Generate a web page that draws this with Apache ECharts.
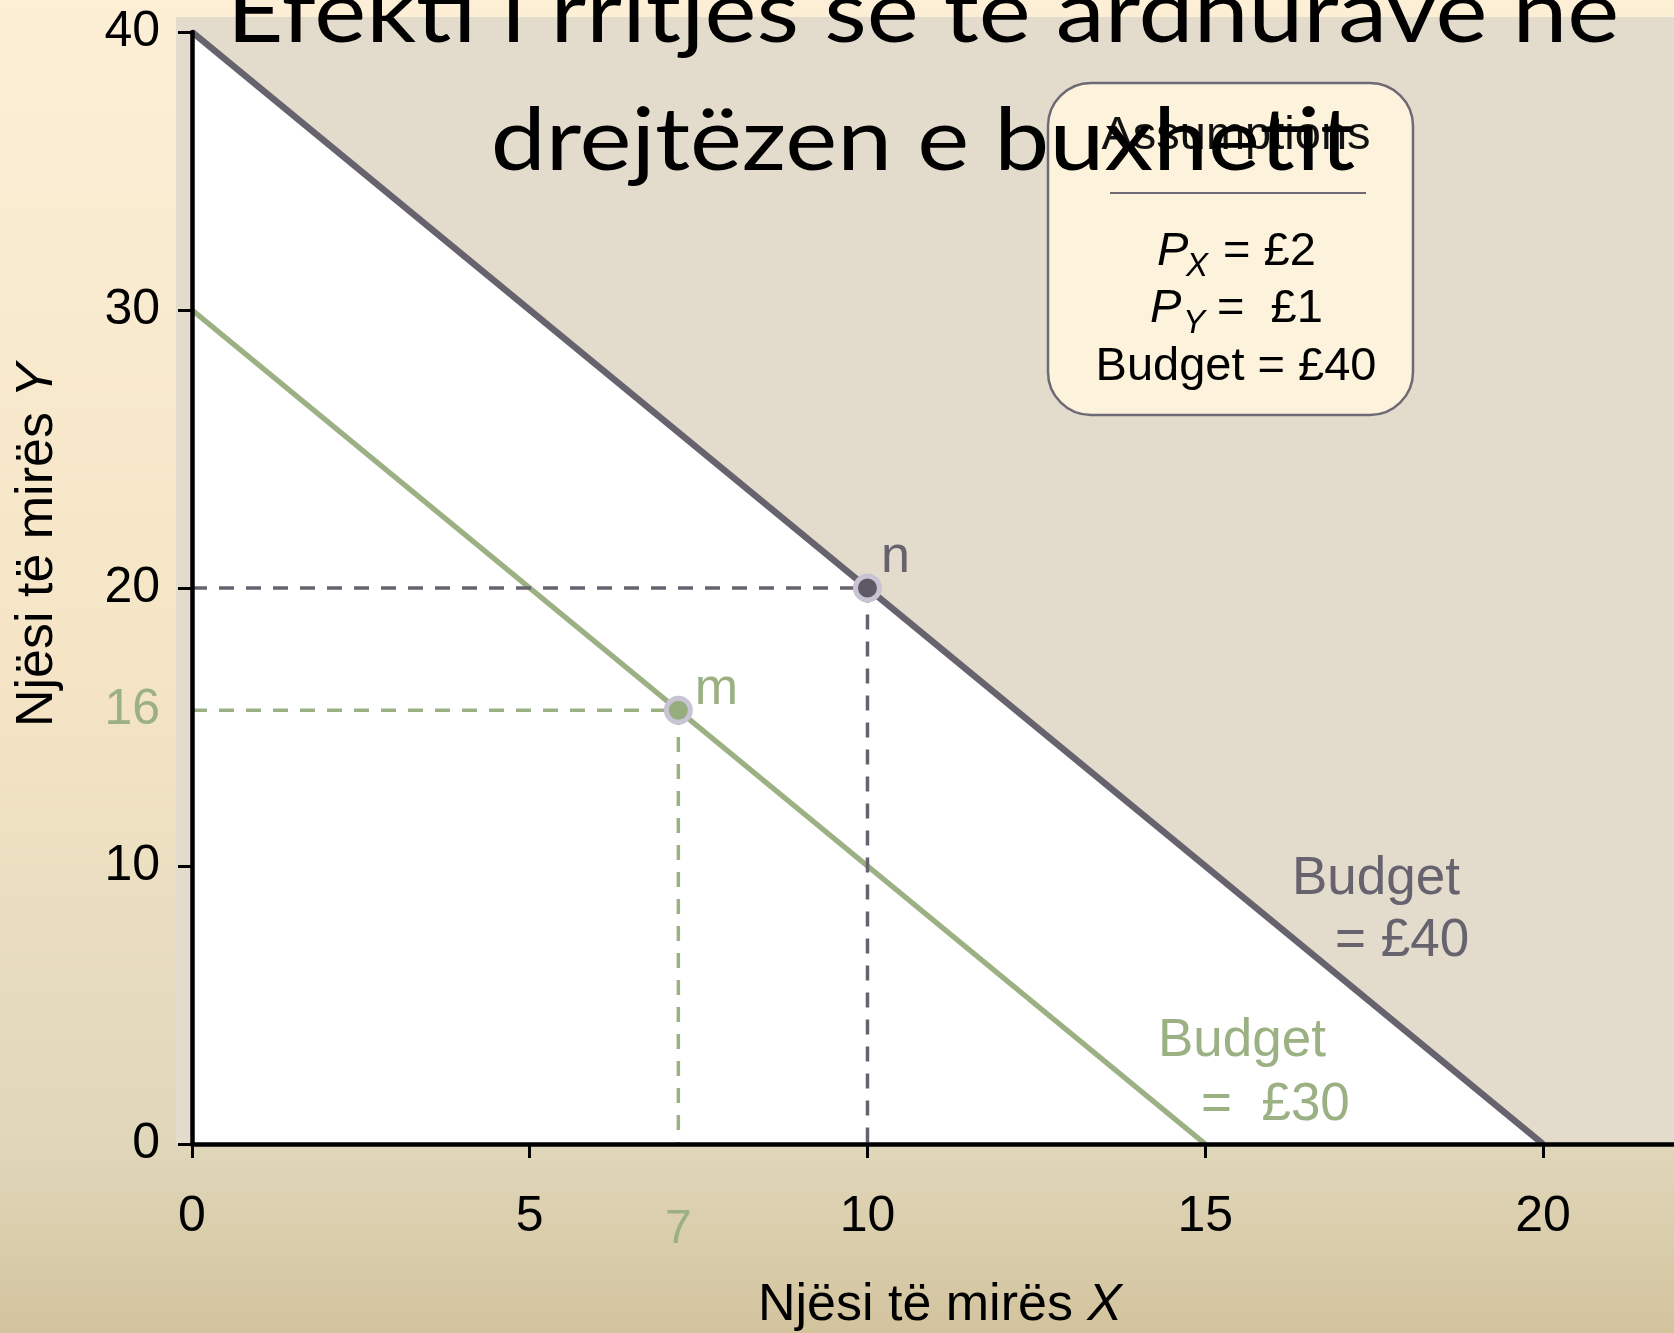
<!DOCTYPE html>
<html>
<head>
<meta charset="utf-8">
<title>Efekti i rritjes së të ardhurave</title>
<script src="https://cdn.jsdelivr.net/npm/echarts@6/dist/echarts.min.js"></script>
<style>
  html, body { margin: 0; padding: 0; }
  #chart { width: 1674px; height: 1333px; }
</style>
</head>
<body>
<div id="chart"></div>
<script>
// values
const xTicks = [0, 5, 10, 15, 20];
const yTicks = [0, 10, 20, 30, 40];
const budget40 = [[0, 40], [20, 0]];
const budget30 = [[0, 30], [15, 0]];
const pointN = [10, 20];
const pointM = [7.2, 15.6];
const markLabelX = '7';
const markLabelY = '16';

const GREY = '#67636e';
const GREEN = '#9bb083';
const SANS = "'Liberation Sans', Arial, sans-serif";
const NARROW = "'Liberation Sans Narrow', 'Liberation Sans', Arial, sans-serif";
const TITLE_FONT = "Lato, 'Open Sans', sans-serif";

function guide(p) {
  return [[0, p[1]], p, [p[0], 0]];
}

const chart = echarts.init(document.getElementById('chart'));

chart.setOption({
  animation: false,
  backgroundColor: {
    type: 'linear', x: 0, y: 0, x2: 0, y2: 1,
    colorStops: [
      { offset: 0, color: '#fcefd6' },
      { offset: 0.5, color: '#f5e5c6' },
      { offset: 0.86, color: '#e0d6b9' },
      { offset: 1, color: '#d3c49e' }
    ]
  },
  grid: { left: 192, top: 32, right: 0, bottom: 189, outerBoundsMode: 'none' },
  xAxis: {
    type: 'value',
    min: 0,
    max: 21.94,
    interval: 5,
    z: 5,
    splitLine: { show: false },
    axisLine: { lineStyle: { color: '#000', width: 4.5 } },
    axisTick: { show: true, length: 14, customValues: xTicks, lineStyle: { color: '#000', width: 3 } },
    axisLabel: {
      customValues: xTicks.concat([pointM[0]]),
      margin: 48,
      fontSize: 50,
      fontFamily: NARROW,
      color: '#000',
      formatter: v => (v === pointM[0] ? '{g|' + markLabelX + '}' : String(v)),
      rich: {
        g: { color: GREEN, fontSize: 48, fontFamily: NARROW, padding: [14, 0, 0, 0] }
      }
    },
    name: 'Njësi të mirës {i|X}',
    nameLocation: 'middle',
    nameGap: 136,
    nameTextStyle: {
      fontSize: 52, fontFamily: SANS, color: '#000', padding: [0, 0, 0, 14],
      rich: { i: { fontSize: 52, fontFamily: SANS, fontStyle: 'italic', color: '#000' } }
    }
  },
  yAxis: {
    type: 'value',
    min: 0,
    max: 40,
    interval: 10,
    z: 5,
    splitLine: { show: false },
    axisLine: { lineStyle: { color: '#000', width: 4.5 } },
    axisTick: { show: true, length: 14, customValues: yTicks, lineStyle: { color: '#000', width: 3 } },
    axisLabel: {
      customValues: yTicks.concat([pointM[1]]),
      margin: 32,
      fontSize: 50,
      fontFamily: NARROW,
      color: '#000',
      formatter: v => (v === pointM[1] ? '{g|' + markLabelY + '}' : String(v)),
      rich: {
        g: { color: GREEN, fontSize: 50, fontFamily: NARROW }
      }
    },
    name: 'Njësi të mirës {i|Y}',
    nameLocation: 'middle',
    nameGap: 128,
    nameTextStyle: {
      fontSize: 52, fontFamily: SANS, color: '#000', padding: [0, 0, 0, 86],
      rich: { i: { fontSize: 52, fontFamily: SANS, fontStyle: 'italic', color: '#000' } }
    }
  },
  graphic: [
    // textured paper area behind the plot
    { type: 'rect', z: -10, shape: { x: 176, y: 17, width: 1498, height: 1127 }, style: { fill: '#e3dbcc' } },
    // assumptions box
    {
      type: 'rect', z: 50,
      shape: { x: 1048, y: 83, width: 365, height: 332, r: 43 },
      style: { fill: '#fdf3dc', stroke: '#6e6a75', lineWidth: 2.5 }
    },
    { type: 'text', z: 51, style: { text: 'Assumptions', x: 1236, y: 136, align: 'center', verticalAlign: 'middle', fontSize: 47, fontFamily: SANS, fill: '#111' } },
    { type: 'line', z: 51, shape: { x1: 1110, y1: 193, x2: 1366, y2: 193 }, style: { stroke: '#6e6a75', lineWidth: 2 } },
    { type: 'text', z: 51, style: { text: 'P', x: 1157, y: 252, align: 'left', verticalAlign: 'middle', fontSize: 47, fontStyle: 'italic', fontFamily: SANS, fill: '#000' } },
    { type: 'text', z: 51, style: { text: 'X', x: 1186, y: 267, align: 'left', verticalAlign: 'middle', fontSize: 33, fontStyle: 'italic', fontFamily: SANS, fill: '#000' } },
    { type: 'text', z: 51, style: { text: '= £2', x: 1223, y: 252, align: 'left', verticalAlign: 'middle', fontSize: 47, fontFamily: SANS, fill: '#000' } },
    { type: 'text', z: 51, style: { text: 'P', x: 1150, y: 309, align: 'left', verticalAlign: 'middle', fontSize: 47, fontStyle: 'italic', fontFamily: SANS, fill: '#000' } },
    { type: 'text', z: 51, style: { text: 'Y', x: 1183, y: 324, align: 'left', verticalAlign: 'middle', fontSize: 33, fontStyle: 'italic', fontFamily: SANS, fill: '#000' } },
    { type: 'text', z: 51, style: { text: '=  £1', x: 1217, y: 309, align: 'left', verticalAlign: 'middle', fontSize: 47, fontFamily: SANS, fill: '#000' } },
    { type: 'text', z: 51, style: { text: 'Budget = £40', x: 1236, y: 367, align: 'center', verticalAlign: 'middle', fontSize: 47, fontFamily: SANS, fill: '#000' } },
    // line captions
    { type: 'text', z: 20, style: { text: 'Budget', x: 1292, y: 879, align: 'left', verticalAlign: 'middle', fontSize: 53, fontFamily: SANS, fill: GREY } },
    { type: 'text', z: 20, style: { text: '= £40', x: 1335, y: 941, align: 'left', verticalAlign: 'middle', fontSize: 53, fontFamily: SANS, fill: GREY } },
    { type: 'text', z: 20, style: { text: 'Budget', x: 1158, y: 1041, align: 'left', verticalAlign: 'middle', fontSize: 53, fontFamily: SANS, fill: GREEN } },
    { type: 'text', z: 20, style: { text: '=  £30', x: 1201, y: 1105, align: 'left', verticalAlign: 'middle', fontSize: 53, fontFamily: SANS, fill: GREEN } },
    // slide title, drawn over everything (stretched to the wider slide font)
    {
      type: 'text', z: 100, x: 923, y: 14, scaleX: 1.117,
      style: { text: 'Efekti i rritjes së të ardhurave në', x: 0, y: 0, align: 'center', verticalAlign: 'middle', fontSize: 88, fontFamily: TITLE_FONT, fill: '#000' }
    },
    {
      type: 'text', z: 100, x: 923, y: 142, scaleX: 1.117,
      style: { text: 'drejtëzen e buxhetit', x: 0, y: 0, align: 'center', verticalAlign: 'middle', fontSize: 88, fontFamily: TITLE_FONT, fill: '#000' }
    }
  ],
  series: [
    {
      name: 'Budget £40',
      type: 'line',
      data: budget40,
      symbol: 'none',
      z: 2,
      lineStyle: { color: GREY, width: 6.5 },
      areaStyle: { color: '#ffffff', opacity: 1 }
    },
    {
      name: 'Budget £30',
      type: 'line',
      data: budget30,
      symbol: 'none',
      z: 3,
      lineStyle: { color: GREEN, width: 5.5 }
    },
    {
      name: 'guide n',
      type: 'line',
      data: guide(pointN),
      symbol: 'none',
      z: 3,
      lineStyle: { color: GREY, width: 3.5, type: [15, 12] }
    },
    {
      name: 'guide m',
      type: 'line',
      data: guide(pointM),
      symbol: 'none',
      z: 3,
      lineStyle: { color: GREEN, width: 3.5, type: [15, 12] }
    },
    {
      name: 'points',
      type: 'scatter',
      z: 6,
      symbolSize: 24,
      data: [
        {
          value: pointN,
          itemStyle: { color: '#5e5a65', borderColor: '#c9c4d4', borderWidth: 5, opacity: 1 },
          label: { show: true, formatter: 'n', position: 'right', distance: 2, offset: [-3, -30], color: GREY, fontSize: 52, fontFamily: SANS }
        },
        {
          value: pointM,
          itemStyle: { color: '#96ad7e', borderColor: '#c9c4d4', borderWidth: 5, opacity: 1 },
          label: { show: true, formatter: 'm', position: 'right', distance: 2, offset: [0, -21], color: GREEN, fontSize: 52, fontFamily: SANS }
        }
      ]
    }
  ]
});
</script>
</body>
</html>
